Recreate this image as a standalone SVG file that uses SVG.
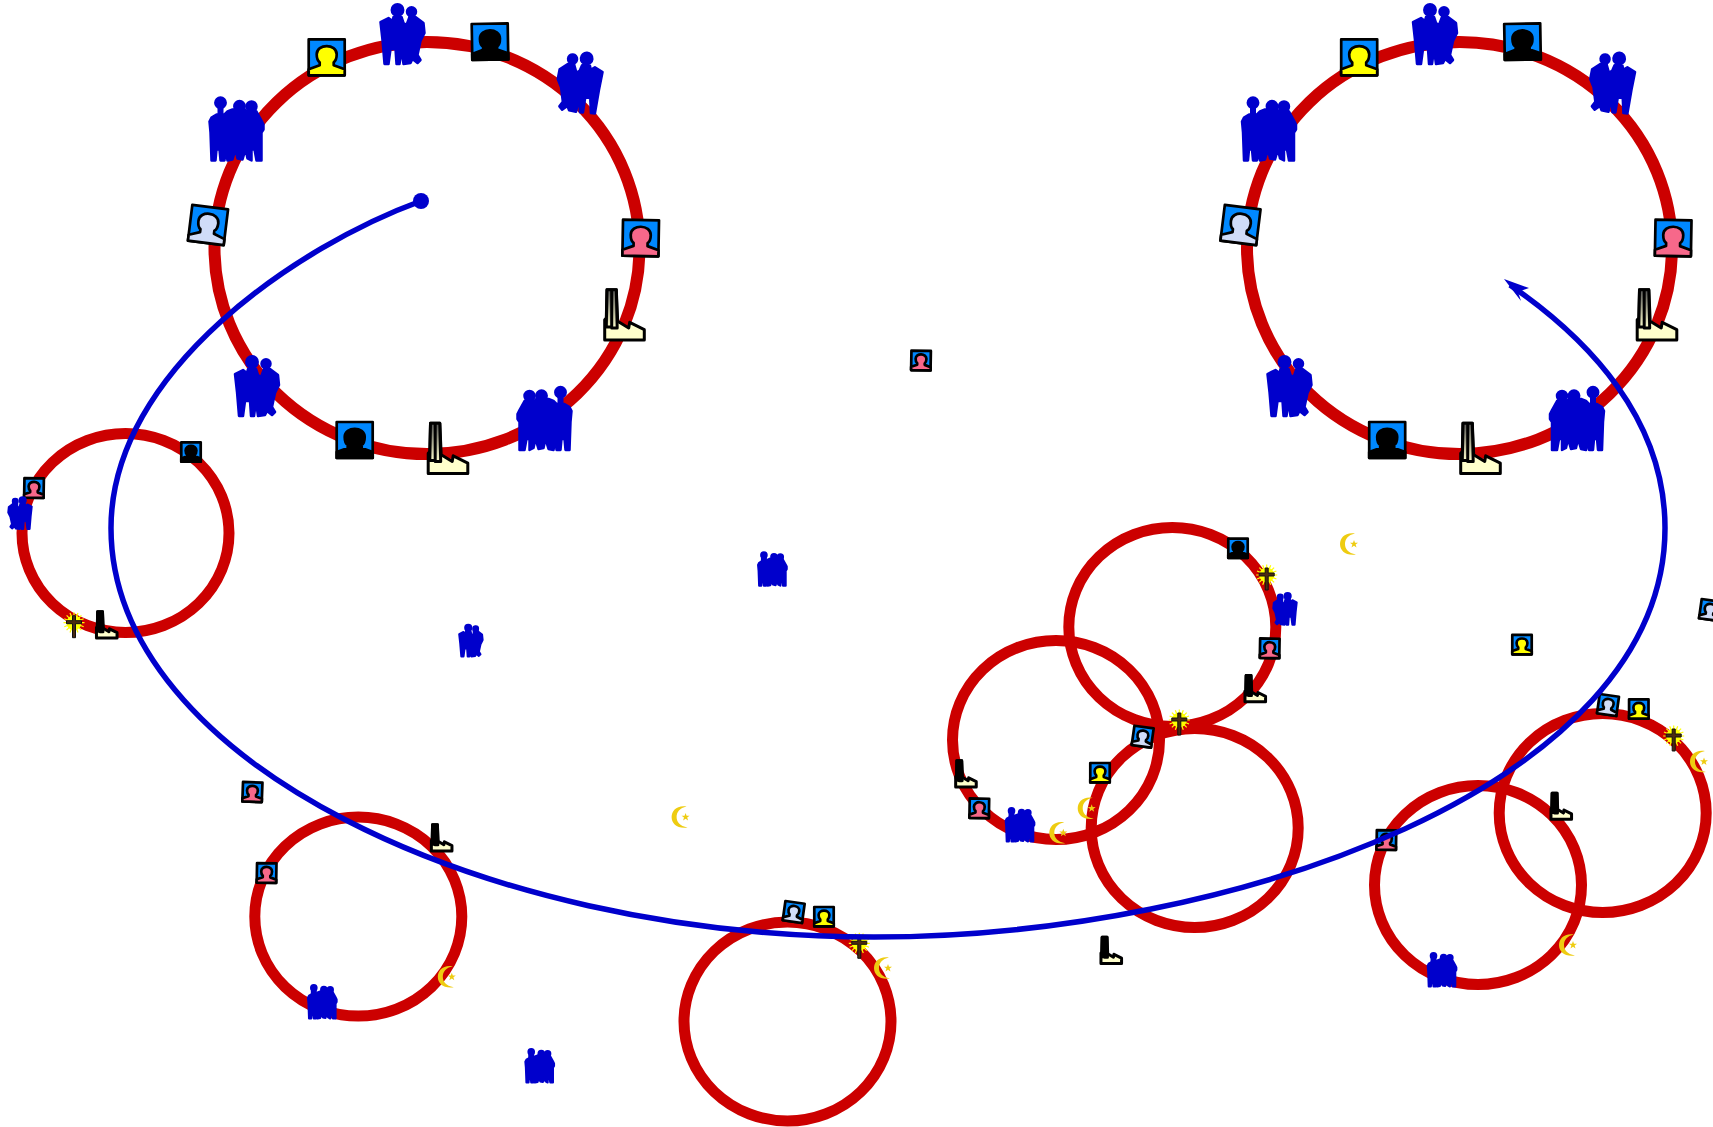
<svg xmlns="http://www.w3.org/2000/svg" width="1713" height="1127" viewBox="0 0 1713 1127">
<style>
.ring{fill:none;stroke:#cc0000;stroke-width:11}
.big{stroke-width:12}
.ln{stroke:#000;stroke-width:2.700;stroke-linejoin:round;vector-effect:non-scaling-stroke}
.fc{stroke-width:3}
.grp{fill:#0000cc;stroke:#0000cc;stroke-width:var(--sw,2.500);stroke-linejoin:round;stroke-linecap:round;vector-effect:non-scaling-stroke}
.neck{fill:none;stroke-width:6;vector-effect:non-scaling-stroke;stroke:#0000cc}
.sm{--sw:4}
.cr{fill:#eecc11}
.conn{fill:none;stroke:#0000cc;stroke-width:5.500}
</style>
<defs>
<linearGradient id="chim" x1="0" y1="0" x2="0" y2="1"><stop offset="0" stop-color="#555"/><stop offset="1" stop-color="#ffffcc"/></linearGradient>
<g id="person"><rect class="ln" x="-18" y="-18" width="36" height="36" fill="#0088ff"/><path class="ln" d="M-18,18V12L-7,8V5C-10,3-10,-2-10,-3C-10,-14 10,-14 10,-3C10,-2 10,3 7,5V8L18,12V18Z"/></g>
<g id="factory"><path class="ln fc" fill="#ffffcc" d="M-19.300,25V4.700L-17.700,3L-17,-25.300H-7.700L-6.300,6.300L4.700,13L5.700,7.300L20.300,14.700V25Z"/><path class="ln fc" fill="url(#chim)" d="M-17,-25.300H-12.300V12H-17.700ZM-12.300,-25.300H-7.700L-6.800,13H-12.300Z"/></g>
<g id="trio" class="grp"><circle cx="-16" cy="-26.700" r="5.200"/><circle cx="3" cy="-23.300" r="5.200"/><circle cx="15" cy="-23" r="5"/><path class="neck" d="M-16,-26V-12M3,-22V-12M15,-22V-12"/><path d="M-27,-8L-25,-12L-20,-15L-12,-15L-9,-18L-4,-20L8,-20L10,-18L14,-20L20,-18L25,-9L27,-5L27,0L25,3L25,31L20,31L18,20L15,20L15,31L11,29L9,20L6,30L1,29L-1,20L-4,30L-9,31L-11,20L-12,31L-16,31L-17,20L-20,20L-21,31L-25,31L-26,3Z"/></g>
<g id="duo" class="grp"><circle cx="-5" cy="-25" r="5.700"/><circle cx="9" cy="-23.300" r="4.500"/><path class="neck" d="M-5,-24V-12M9,-23V-12"/><path d="M-22,-13L-14,-17L-10,-14L-9,-18L-1,-18L1,-12L4,-10L7,-18L13,-18L21,-12L22,-2L18,6L15,20L18,25L15,28L10,24L8,28L1,29L-1,15L-3,29L-6,29L-7,14L-12,14L-14,29L-18,29L-20,5Z"/></g>
<g id="cross"><circle r="7.500" fill="#ffff00"/><path stroke="#ffff00" stroke-width="1.200" d="M-10.500,0H10.500M0,-10.500V10.500M-7.400,-7.400L7.400,7.400M-7.400,7.400L7.400,-7.400M-9.700,-4L9.700,4M-9.700,4L9.700,-4M-4,-9.700L4,9.700M4,-9.700L-4,9.700"/><path d="M-1.500,-7H1.500V-2H7.500V1H1.500V15H-1.500V1H-7.500V-2H-1.500Z" fill="#4a2a10" stroke="#111" stroke-width="1"/></g>
<g id="crescent"><path class="cr" d="M6,-10.500C-4,-12-9,-6-9,0C-9,7-3,12 7,10.500C-1,9-4,5-4,0C-4,-5-1,-9 6,-10.500Z"/><path class="cr" d="M5,-4L6,-1.200L9,-1.200L6.600,0.600L7.500,3.500L5,1.800L2.500,3.500L3.400,0.600L1,-1.200L4,-1.200Z"/></g>
</defs>

<g id="rings">
<g id="ring-a"><ellipse class="ring big" cx="427" cy="248" rx="212.500" ry="206"/></g>
<g id="ring-b"><ellipse class="ring big" cx="1459.500" cy="248" rx="212.500" ry="206"/></g>
<g id="ring-c"><ellipse class="ring" cx="125.500" cy="533" rx="103.500" ry="99.500"/></g>
<g id="ring-d"><ellipse class="ring" cx="358.300" cy="916.600" rx="103.500" ry="99.500"/></g>
<g id="ring-e"><ellipse class="ring" cx="787.500" cy="1021.500" rx="103.500" ry="99.500"/></g>
<g id="ring-f"><ellipse class="ring" cx="1056" cy="740" rx="103.500" ry="99.500"/></g>
<g id="ring-g"><ellipse class="ring" cx="1172.300" cy="627" rx="103.500" ry="99.500"/></g>
<g id="ring-h"><ellipse class="ring" cx="1194.700" cy="828" rx="103.500" ry="99.500"/></g>
<g id="ring-i"><ellipse class="ring" cx="1478" cy="885" rx="103.500" ry="99.500"/></g>
<g id="ring-j"><ellipse class="ring" cx="1602.700" cy="813" rx="103.500" ry="99.500"/></g>
</g>

<g id="a-trio1"><use href="#trio" transform="translate(236.500,129.500)"/></g>
<g id="a-yellow"><use href="#person" fill="#ffff00" transform="translate(326.700,57.300)"/></g>
<g id="a-duo1"><use href="#duo" transform="translate(402.500,35)"/></g>
<g id="a-black1"><use href="#person" fill="#000" transform="translate(490,41.700) rotate(-1)"/></g>
<g id="a-duo2"><use href="#duo" transform="translate(579.500,83) rotate(5) scale(-1,1)"/></g>
<g id="a-pink"><use href="#person" fill="#f7688a" transform="translate(640.700,238) rotate(1)"/></g>
<g id="a-factory1"><use href="#factory" transform="translate(624,315)"/></g>
<g id="a-trio2"><use href="#trio" transform="translate(544.500,419) scale(-1,1)"/></g>
<g id="a-factory2"><use href="#factory" transform="translate(447.500,448.500)"/></g>
<g id="a-black2"><use href="#person" fill="#000" transform="translate(354.700,440)"/></g>
<g id="a-duo3"><use href="#duo" transform="translate(257,387)"/></g>
<g id="a-light"><use href="#person" fill="#d0dcf8" transform="translate(208,225) rotate(7)"/></g>

<g id="b-trio1"><use href="#trio" transform="translate(1269,129.500)"/></g>
<g id="b-yellow"><use href="#person" fill="#ffff00" transform="translate(1359.200,57.300)"/></g>
<g id="b-duo1"><use href="#duo" transform="translate(1435,35)"/></g>
<g id="b-black1"><use href="#person" fill="#000" transform="translate(1522.500,41.700) rotate(-1)"/></g>
<g id="b-duo2"><use href="#duo" transform="translate(1612,83) rotate(5) scale(-1,1)"/></g>
<g id="b-pink"><use href="#person" fill="#f7688a" transform="translate(1673.200,238) rotate(1)"/></g>
<g id="b-factory1"><use href="#factory" transform="translate(1656.500,315)"/></g>
<g id="b-trio2"><use href="#trio" transform="translate(1577,419) scale(-1,1)"/></g>
<g id="b-factory2"><use href="#factory" transform="translate(1480,448.500)"/></g>
<g id="b-black2"><use href="#person" fill="#000" transform="translate(1387.200,440)"/></g>
<g id="b-duo3"><use href="#duo" transform="translate(1289.500,387)"/></g>
<g id="b-light"><use href="#person" fill="#d0dcf8" transform="translate(1240.500,225) rotate(7)"/></g>

<g id="s01"><use href="#person" fill="#f7688a" transform="translate(921,360.500) rotate(1) scale(.54)"/></g>
<g id="s02"><use href="#person" fill="#f7688a" transform="translate(34,488) rotate(1) scale(.54)"/></g>
<g id="s03"><use href="#person" fill="#000" transform="translate(191,452) scale(.54)"/></g>
<g id="s04"><use href="#duo" class="sm" transform="translate(20,513.500) scale(-.53,.53)"/></g>
<g id="s05"><use href="#cross" transform="translate(74,622.700)"/></g>
<g id="s06"><use href="#factory" transform="translate(106.500,625) scale(.52)"/></g>
<g id="s07"><use href="#trio" class="sm" transform="translate(772.400,569.200) scale(.53)"/></g>
<g id="s08"><use href="#duo" class="sm" transform="translate(470.900,641) scale(.53)"/></g>
<g id="s09"><use href="#trio" class="sm" transform="translate(539.700,1066) scale(.53)"/></g>
<g id="s10"><use href="#person" fill="#f7688a" transform="translate(252.400,792) rotate(2) scale(.54)"/></g>
<g id="s11"><use href="#person" fill="#f7688a" transform="translate(266.600,873) rotate(1) scale(.54)"/></g>
<g id="s12"><use href="#factory" transform="translate(441.400,838) scale(.52)"/></g>
<g id="s13"><use href="#trio" class="sm" transform="translate(322.300,1002) scale(.53)"/></g>
<g id="s14"><use href="#crescent" transform="translate(446.800,976.700)"/></g>
<g id="s15"><use href="#crescent" transform="translate(680.600,817)"/></g>
<g id="s16"><use href="#crescent" transform="translate(1349,544)"/></g>
<g id="s17"><use href="#person" fill="#d0dcf8" transform="translate(793.700,912) rotate(8) scale(.54)"/></g>
<g id="s18"><use href="#person" fill="#ffff00" transform="translate(824,916.700) scale(.54)"/></g>
<g id="s19"><use href="#cross" transform="translate(859.300,943.300)"/></g>
<g id="s20"><use href="#crescent" transform="translate(883,968)"/></g>
<g id="s21"><use href="#factory" transform="translate(1111,950.500) scale(.52)"/></g>
<g id="s22"><use href="#factory" transform="translate(965.700,774) scale(.52)"/></g>
<g id="s23"><use href="#person" fill="#f7688a" transform="translate(979.300,808.300) rotate(1) scale(.54)"/></g>
<g id="s24"><use href="#trio" class="sm" transform="translate(1020,825) scale(.53)"/></g>
<g id="s25"><use href="#crescent" transform="translate(1058.300,832.700)"/></g>
<g id="s26"><use href="#crescent" transform="translate(1086.700,808.300)"/></g>
<g id="s27"><use href="#person" fill="#ffff00" transform="translate(1100,772.700) scale(.54)"/></g>
<g id="s28"><use href="#person" fill="#d0dcf8" transform="translate(1142.700,736.700) rotate(8) scale(.54)"/></g>
<g id="s29"><use href="#cross" transform="translate(1179.300,720)"/></g>
<g id="s30"><use href="#person" fill="#000" transform="translate(1238,548.300) scale(.54)"/></g>
<g id="s31"><use href="#cross" transform="translate(1266.700,575)"/></g>
<g id="s32"><use href="#duo" class="sm" transform="translate(1285,609.300) scale(-.53,.53)"/></g>
<g id="s33"><use href="#person" fill="#f7688a" transform="translate(1269.700,648.300) rotate(1) scale(.54)"/></g>
<g id="s34"><use href="#factory" transform="translate(1255,688.700) scale(.52)"/></g>
<g id="s35"><use href="#person" fill="#d0dcf8" transform="translate(1710,610) rotate(8) scale(.54)"/></g>
<g id="s36"><use href="#person" fill="#ffff00" transform="translate(1522,644.600) scale(.54)"/></g>
<g id="s37"><use href="#person" fill="#d0dcf8" transform="translate(1608,705) rotate(8) scale(.54)"/></g>
<g id="s38"><use href="#person" fill="#ffff00" transform="translate(1638.800,709) scale(.54)"/></g>
<g id="s39"><use href="#cross" transform="translate(1673.700,736)"/></g>
<g id="s40"><use href="#crescent" transform="translate(1699,761.500)"/></g>
<g id="s41"><use href="#factory" transform="translate(1561,806.300) scale(.52)"/></g>
<g id="s42"><use href="#person" fill="#f7688a" transform="translate(1386.400,840) rotate(1) scale(.54)"/></g>
<g id="s43"><use href="#trio" class="sm" transform="translate(1442,970) scale(.53)"/></g>
<g id="s44"><use href="#crescent" transform="translate(1568,945)"/></g>

<g id="connectors">
<path class="conn" d="M421,201C300,245 111,370 111,528C111,760 480,937 874,937C1235,937 1665,785 1665,528C1665,420 1590,340 1510,285"/>
<circle cx="421" cy="201" r="8" fill="#0000cc"/>
<path d="M1504,279L1529,288L1518,292L1521,301Z" fill="#0000cc"/>
</g>
</svg>
